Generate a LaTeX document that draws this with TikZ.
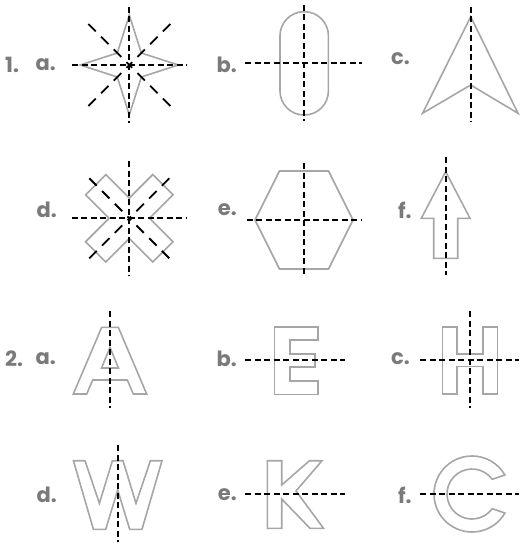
\documentclass[tikz,border=0pt]{standalone}
\usepackage{fontspec}
\setmainfont{Poppins}
\usepackage{xcolor}
\usepackage{tikz}
\definecolor{lblgray}{HTML}{7A7A7A}
\definecolor{shapegray}{HTML}{A6A6A6}

\begin{document}
\begin{tikzpicture}[
    x=1pt, y=-1pt,
    lbl/.style={font=\fontsize{21}{21}\selectfont\bfseries, text=lblgray, inner sep=0pt},
    num/.style={lbl, anchor=west},
    part/.style={lbl, anchor=east},
    figline/.style={draw=shapegray, line width=1.6pt, line join=miter},
    symline/.style={draw=black, line width=1.8pt, dash pattern=on 6pt off 3.5pt},
    diagline/.style={draw=black, line width=1.8pt, dash pattern=on 10.5pt off 7.5pt},
]
\useasboundingbox (0,0) rectangle (519,543);

\node[num] (q1) at (5,65) {1.};
\node[part] (q1a) at (56,65) {a.};
\node[part] (q1b) at (237,65) {b.};
\node[part] (q1c) at (410,58.5) {c.};

\draw[figline] (129.3,15) -- (141.3,53) -- (178.3,65) -- (141.3,77) -- (129.3,115)
    -- (117.3,77) -- (80.3,65) -- (117.3,53) -- cycle;
\draw[symline] (129.3,7) -- (129.3,122.5);
\draw[symline] (72,65) -- (187,65);
\draw[diagline] (88.3,24) -- (129.3,65);
\draw[diagline] (170.3,106) -- (129.3,65);
\draw[diagline] (170.3,24) -- (129.3,65);
\draw[diagline] (88.3,106) -- (129.3,65);

\draw[figline, rounded corners=24pt] (280,11.7) rectangle (328.4,115);
\draw[symline] (304.2,5) -- (304.2,120.5);
\draw[symline] (245,63.3) -- (362,63.3);

\draw[figline] (470.7,16.7) -- (518,113.3) -- (470.7,85) -- (422.5,113.3) -- cycle;
\draw[symline] (470.7,7) -- (470.7,122);

\node[part] (q1d) at (57,210) {d.};
\node[part] (q1e) at (237,210) {e.};
\node[part] (q1f) at (411.7,210) {f.};

\draw[figline, shift={(129.3,218.3)}, rotate=45] (47.5,14.3) -- (14.3,14.3) -- (14.3,47.5)
    -- (-14.3,47.5) -- (-14.3,14.3) -- (-47.5,14.3) -- (-47.5,-14.3) -- (-14.3,-14.3)
    -- (-14.3,-47.5) -- (14.3,-47.5) -- (14.3,-14.3) -- (47.5,-14.3) -- cycle;
\draw[symline] (129.3,161) -- (129.3,275.5);
\draw[symline] (71.7,218.3) -- (186.7,218.3);
\draw[diagline] (89.3,178.3) -- (129.3,218.3);
\draw[diagline] (169.3,258.3) -- (129.3,218.3);
\draw[diagline] (169.3,178.3) -- (129.3,218.3);
\draw[diagline] (89.3,258.3) -- (129.3,218.3);

\draw[figline] (255,220) -- (279.5,171) -- (328.5,171) -- (353,220) -- (328.5,269)
    -- (279.5,269) -- cycle;
\draw[symline] (304,163) -- (304,277);
\draw[symline] (246.7,220) -- (361,220);

\draw[figline] (445.7,171.7) -- (470,218.3) -- (457.7,218.3) -- (457.7,258.3)
    -- (433.7,258.3) -- (433.7,218.3) -- (421.3,218.3) -- cycle;
\draw[symline] (445.7,157) -- (445.7,275);

\node[num] (q2) at (5,359) {2.};
\node[part] (q2a) at (56,359) {a.};
\node[part] (q2b) at (237,359) {b.};
\node[part] (q2c) at (410,359) {c.};

\draw[figline] (101.7,327.3) -- (118.3,327.3) -- (146.7,394) -- (133.3,394) -- (127.3,380)
    -- (92.7,380) -- (86.7,394) -- (73.3,394) -- cycle
    (110,347.5) -- (118.5,368) -- (101.5,368) -- cycle;
\draw[symline] (110,311) -- (110,408);

\draw[figline] (274.3,326.7) -- (317.7,326.7) -- (317.7,340) -- (290,340) -- (290,354)
    -- (315,354) -- (315,367) -- (290,367) -- (290,381) -- (317.7,381) -- (317.7,394.3)
    -- (274.3,394.3) -- cycle;
\draw[symline] (245,360) -- (345,360);

\draw[figline] (442.3,326.7) -- (456.7,326.7) -- (456.7,354) -- (482.7,354) -- (482.7,326.7)
    -- (497.3,326.7) -- (497.3,394) -- (482.7,394) -- (482.7,366.5) -- (456.7,366.5)
    -- (456.7,394) -- (442.3,394) -- cycle;
\draw[symline] (469.7,311) -- (469.7,408);
\draw[symline] (420,360) -- (519,360);

\node[part] (q2d) at (57,495) {d.};
\node[part] (q2e) at (237,495) {e.};
\node[part] (q2f) at (411.7,495) {f.};

\draw[figline] (73.4,460.7) -- (85,460.7) -- (99.4,503.3) -- (112.4,460.7) -- (123,460.7)
    -- (136,503.3) -- (150.4,460.7) -- (162,460.7) -- (142,529.3) -- (129.7,529.3)
    -- (117.7,490) -- (105.7,529.3) -- (93.4,529.3) -- cycle;
\draw[symline] (117.7,445) -- (117.7,541.5);

\draw[figline] (267.3,460.7) -- (281.7,460.7) -- (281.7,485) -- (309.5,460.7) -- (322,460.7)
    -- (296,491) -- (323.5,528.3) -- (310,528.3) -- (281.7,499) -- (281.7,528.3)
    -- (267.3,528.3) -- cycle;
\draw[symline] (245,494) -- (345,494);

\draw[figline, shift={(472,494)}] (30:38) arc[start angle=30, end angle=330, radius=38]
    -- (324:25) arc[start angle=324, end angle=36, radius=25] -- cycle;
\draw[symline] (420,494) -- (519,494);
\end{tikzpicture}
\end{document}
